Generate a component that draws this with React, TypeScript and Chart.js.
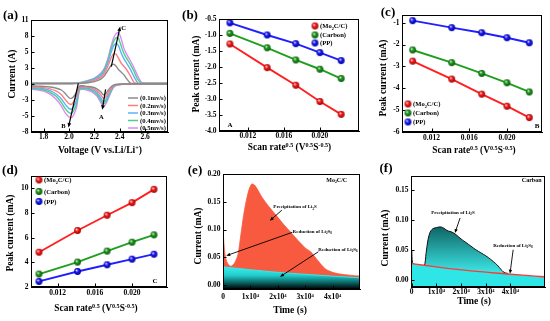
import React, { useEffect, useRef } from 'react';
import { Chart, registerables } from 'chart.js';

Chart.register(...registerables);

const FAMILY = "'Liberation Serif', 'Times New Roman', Times, serif";

/* ---------------- (a) cyclic voltammetry ---------------- */
const CV_RATE_LABELS = ['(0.1mv/s)', '(0.2mv/s)', '(0.3mv/s)', '(0.4mv/s)', '(0.5mv/s)'];
const CV_ANODIC_V = [1.7, 1.8, 1.9, 2.0, 2.05, 2.1, 2.15, 2.2, 2.25, 2.28, 2.31, 2.33, 2.35, 2.37, 2.39, 2.41, 2.43, 2.45, 2.48, 2.51, 2.54, 2.57, 2.6, 2.7, 2.78];
const CV_ANODIC_01 = [0.05, 0.05, 0.05, 0.05, 0.06, 0.1, 0.2, 0.4, 0.8, 1.4, 2.4, 3.1, 3.3, 3.0, 2.4, 2.0, 1.6, 1.0, 0.2, 0.05, 0.05, 0.05, 0.05, 0.05, 0.05];
const CV_ANODIC_02 = [0.08, 0.08, 0.08, 0.08, 0.1, 0.15, 0.3, 0.6, 1.1, 1.8, 3.2, 4.3, 5.0, 5.0, 4.3, 3.5, 3.0, 2.5, 1.5, 0.3, 0.08, 0.08, 0.08, 0.08, 0.08];
const CV_ANODIC_03 = [0.1, 0.1, 0.1, 0.1, 0.12, 0.2, 0.4, 0.8, 1.4, 2.2, 3.8, 5.2, 6.3, 6.8, 6.4, 5.2, 4.3, 3.6, 2.6, 1.3, 0.2, 0.1, 0.1, 0.1, 0.1];
const CV_ANODIC_04 = [0.12, 0.12, 0.12, 0.12, 0.15, 0.25, 0.5, 0.9, 1.6, 2.5, 4.2, 5.8, 7.0, 7.7, 7.6, 6.4, 5.2, 4.4, 3.4, 2.2, 0.8, 0.15, 0.12, 0.12, 0.12];
const CV_ANODIC_05 = [0.15, 0.15, 0.15, 0.15, 0.18, 0.3, 0.6, 1.0, 1.8, 2.7, 4.5, 6.2, 7.6, 8.4, 8.6, 7.6, 6.1, 5.1, 4.0, 2.8, 1.4, 0.3, 0.15, 0.15, 0.15];
const CV_CATHODIC_V = [2.78, 2.6, 2.45, 2.38, 2.35, 2.33, 2.31, 2.29, 2.27, 2.25, 2.22, 2.18, 2.14, 2.11, 2.09, 2.08, 2.07, 2.06, 2.04, 2.02, 2.0, 1.97, 1.94, 1.9, 1.85, 1.8, 1.75, 1.7];
const CV_CATHODIC_01 = [0, 0, 0, -0.05, -0.2, -0.5, -1.0, -1.6, -1.8, -1.3, -0.8, -0.5, -0.4, -0.3, -0.3, -0.4, -0.8, -1.3, -2.0, -2.4, -2.3, -1.6, -1.0, -0.7, -0.5, -0.4, -0.35, -0.3];
const CV_CATHODIC_02 = [0, 0, 0, -0.1, -0.3, -0.8, -1.4, -2.1, -2.4, -1.8, -1.1, -0.7, -0.5, -0.45, -0.45, -0.6, -1.2, -1.9, -2.8, -3.4, -3.3, -2.6, -1.8, -1.2, -0.8, -0.6, -0.5, -0.45];
const CV_CATHODIC_03 = [0, 0, 0, -0.1, -0.4, -1.0, -1.8, -2.6, -3.0, -2.3, -1.4, -0.9, -0.65, -0.6, -0.6, -0.8, -1.6, -2.6, -3.6, -4.2, -4.1, -3.4, -2.5, -1.7, -1.1, -0.8, -0.65, -0.6];
const CV_CATHODIC_04 = [0, 0, 0, -0.15, -0.5, -1.2, -2.1, -3.0, -3.4, -2.7, -1.7, -1.1, -0.8, -0.75, -0.75, -1.0, -2.0, -3.2, -4.3, -4.9, -4.8, -4.1, -3.1, -2.1, -1.4, -1.0, -0.8, -0.7];
const CV_CATHODIC_05 = [0, 0, 0, -0.2, -0.6, -1.4, -2.4, -3.3, -3.8, -3.1, -2.0, -1.3, -1.0, -0.9, -0.9, -1.2, -2.4, -3.8, -5.0, -5.6, -5.5, -4.8, -3.7, -2.6, -1.7, -1.2, -0.95, -0.85];
const CV_X_TICKS = [1.8, 2.0, 2.2, 2.4, 2.6];
const CV_X_LABELS = ['1.8', '2.0', '2.2', '2.4', '2.6'];
const CV_Y_TICKS = [-8, -16 / 3, -8 / 3, 0, 8 / 3, 16 / 3, 8, 32 / 3];
const CV_Y_LABELS = ['-8', '-5', '-3', '0', '3', '5', '8', '11'];

/* ---------------- (b)(c)(d) peak current vs scan rate^0.5 ---------------- */
const SCAN_SQRT = [0.01, 0.01414, 0.01732, 0.02, 0.02236];
const PEAK_SERIES = ['(Mo_{2}C/C)', '(Carbon)', '(PP)'];
const PEAK_A_MO2C = [-1.28, -2.02, -2.57, -3.08, -3.48];
const PEAK_A_CARBON = [-0.95, -1.4, -1.78, -2.07, -2.36];
const PEAK_A_PP = [-0.62, -1.0, -1.27, -1.55, -1.8];
const PEAK_B_MO2C = [-2.76, -3.58, -4.27, -4.82, -5.34];
const PEAK_B_CARBON = [-2.25, -2.83, -3.32, -3.75, -4.17];
const PEAK_B_PP = [-0.91, -1.23, -1.46, -1.69, -1.92];
const PEAK_C_MO2C = [4.82, 6.58, 7.82, 8.84, 9.92];
const PEAK_C_CARBON = [3.05, 4.02, 4.91, 5.63, 6.23];
const PEAK_C_PP = [2.45, 3.26, 3.8, 4.26, 4.66];
const SCAN_X_TICKS = [0.012, 0.016, 0.02];
const SCAN_X_LABELS = ['0.012', '0.016', '0.020'];
const PEAK_A_Y_TICKS = [-4, -3.5, -3, -2.5, -2, -1.5, -1, -0.5];
const PEAK_A_Y_LABELS = ['-4.0', '-3.5', '-3.0', '-2.5', '-2.0', '-1.5', '-1.0', '-0.5'];
const PEAK_B_Y_TICKS = [-6, -5, -4, -3, -2, -1];
const PEAK_B_Y_LABELS = ['-6', '-5', '-4', '-3', '-2', '-1'];
const PEAK_C_Y_TICKS = [2, 4, 6, 8, 10];
const PEAK_C_Y_LABELS = ['2', '4', '6', '8', '10'];

/* ---------------- (e)(f) potentiostatic discharge ---------------- */
const E_PRECIP_T = [0, 200, 500, 1000, 1800, 2800, 3600, 4500, 5500, 6500, 7500, 8500, 9500, 10500, 11500, 12500, 14000, 16000, 18000, 20000, 22000, 24000, 26000, 28000, 30000, 32000, 33000, 34000, 35000, 36000, 37000, 38000, 39000, 40000, 42000, 45000, 48000, 50000];
const E_PRECIP_I = [0.1, 0.085, 0.065, 0.048, 0.038, 0.034, 0.036, 0.042, 0.056, 0.09, 0.125, 0.152, 0.172, 0.182, 0.18, 0.173, 0.16, 0.146, 0.134, 0.122, 0.11, 0.099, 0.088, 0.077, 0.067, 0.06, 0.054, 0.048, 0.042, 0.036, 0.031, 0.027, 0.025, 0.023, 0.0205, 0.0185, 0.017, 0.0165];
const E_BASE_T = [0, 10000, 20000, 30000, 40000, 50000];
const E_BASE_I = [0.033, 0.0278, 0.023, 0.0195, 0.0162, 0.0131];
const F_PRECIP_T = [0, 300, 1000, 3000, 5000, 5800, 6600, 7400, 8200, 9000, 10000, 11000, 12000, 13000, 14000, 15000, 16000, 17000, 18000, 20000, 22000, 24000, 26000, 28000, 30000, 32000, 34000, 35000, 36000, 37000, 38000, 39000];
const F_PRECIP_I = [0.05, 0.03, 0.027, 0.0245, 0.024, 0.045, 0.068, 0.08, 0.085, 0.087, 0.088, 0.089, 0.089, 0.087, 0.084, 0.082, 0.081, 0.079, 0.076, 0.069, 0.063, 0.057, 0.051, 0.046, 0.041, 0.035, 0.028, 0.024, 0.019, 0.0145, 0.0125, 0.0115];
const F_BASE_T = [0, 10000, 20000, 30000, 40000, 50000, 54000];
const F_BASE_I = [0.028, 0.0225, 0.0175, 0.0138, 0.0103, 0.0072, 0.006];
const TIME_TICKS = [0, 10000, 20000, 30000, 40000];
const TIME_LABELS = ['0', '1x10\u2074', '2x10\u2074', '3x10\u2074', '4x10\u2074'];
const E_Y_TICKS = [0, 0.05, 0.1, 0.15, 0.2];
const E_Y_LABELS = ['0.00', '0.05', '0.10', '0.15', '0.20'];
const F_Y_TICKS = [0, 0.05, 0.1, 0.15];
const F_Y_LABELS = ['0.00', '0.05', '0.10', '0.15'];

/* ---------------- layout & styles ---------------- */
type Box = { x: number; y: number; w: number; h: number; l: number; t: number; r: number; b: number; xPad: number };
const BOX_A: Box = { x: 0, y: 0, w: 180, h: 158, l: 31, t: 20, r: 168, b: 132, xPad: 1 };
const BOX_B: Box = { x: 180, y: 0, w: 185, h: 158, l: 219, t: 19, r: 360, b: 131, xPad: 1 };
const BOX_C: Box = { x: 365, y: 0, w: 185, h: 158, l: 402, t: 15, r: 542, b: 132, xPad: 1.5 };
const BOX_D: Box = { x: 0, y: 158, w: 185, h: 163, l: 31, t: 176, r: 167, b: 287, xPad: 1.5 };
const BOX_E: Box = { x: 185, y: 158, w: 185, h: 163, l: 223, t: 174, r: 360, b: 289, xPad: 4 };
const BOX_F: Box = { x: 370, y: 158, w: 180, h: 163, l: 411, t: 176, r: 545, b: 287, xPad: 1 };

const CV_COLORS = ['#8a8a8a', '#ff7d7d', '#5db3f3', '#4ccf8c', '#dc8af7'];
const SERIES_COLORS = ['#ff1f1f', '#1f9f1f', '#1f1fff'];
const SERIES_DARK = ['#9a0000', '#0a560a', '#00009a'];

/* ---------------- helpers ---------------- */
type Seg = { t: string; m: number };
function parseRich(s: string): Seg[] {
  const out: Seg[] = [];
  let buf = '';
  let i = 0;
  while (i < s.length) {
    const ch = s[i];
    if ((ch === '^' || ch === '_') && s[i + 1] === '{') {
      if (buf) { out.push({ t: buf, m: 0 }); buf = ''; }
      const end = s.indexOf('}', i + 2);
      out.push({ t: s.slice(i + 2, end), m: ch === '^' ? 1 : -1 });
      i = end + 1;
    } else { buf += ch; i++; }
  }
  if (buf) out.push({ t: buf, m: 0 });
  return out;
}

function drawText(ctx: CanvasRenderingContext2D, s: string, x: number, y: number, size: number, align = 'center', rot = 0) {
  const sg = parseRich(s);
  ctx.save();
  ctx.translate(x, y);
  if (rot) ctx.rotate(rot);
  let w = 0;
  for (const g of sg) {
    ctx.font = `bold ${g.m ? size * 0.65 : size}px ${FAMILY}`;
    w += ctx.measureText(g.t).width;
  }
  let cx = align === 'center' ? -w / 2 : align === 'right' ? -w : 0;
  ctx.fillStyle = '#000';
  ctx.textAlign = 'left';
  ctx.textBaseline = 'alphabetic';
  const base = size * 0.34;
  for (const g of sg) {
    ctx.font = `bold ${g.m ? size * 0.65 : size}px ${FAMILY}`;
    const dy = g.m === 1 ? -size * 0.38 : g.m === -1 ? size * 0.22 : 0;
    ctx.fillText(g.t, cx, base + dy);
    cx += ctx.measureText(g.t).width;
  }
  ctx.restore();
}

function drawArrow(ctx: CanvasRenderingContext2D, x1: number, y1: number, x2: number, y2: number, head = 4.5, lw = 1.1) {
  const a = Math.atan2(y2 - y1, x2 - x1);
  const c = Math.cos(a), s = Math.sin(a);
  ctx.save();
  ctx.strokeStyle = '#000';
  ctx.fillStyle = '#000';
  ctx.lineWidth = lw;
  ctx.beginPath();
  ctx.moveTo(x1, y1);
  ctx.lineTo(x2 - c * head * 0.8, y2 - s * head * 0.8);
  ctx.stroke();
  ctx.beginPath();
  ctx.moveTo(x2, y2);
  ctx.lineTo(x2 - head * c + head * 0.42 * s, y2 - head * s - head * 0.42 * c);
  ctx.lineTo(x2 - head * c - head * 0.42 * s, y2 - head * s + head * 0.42 * c);
  ctx.closePath();
  ctx.fill();
  ctx.restore();
}

function sphere(color: string, dark: string, r: number) {
  const c = document.createElement('canvas');
  const s = Math.ceil(r * 2) + 2;
  c.width = s; c.height = s;
  const g = c.getContext('2d')!;
  const grd = g.createRadialGradient(s / 2 - r * 0.35, s / 2 - r * 0.4, r * 0.05, s / 2, s / 2, r);
  grd.addColorStop(0, '#ffffff');
  grd.addColorStop(0.4, color);
  grd.addColorStop(1, dark);
  g.fillStyle = grd;
  g.beginPath();
  g.arc(s / 2, s / 2, r, 0, Math.PI * 2);
  g.fill();
  return c;
}

function makeScale(box: Box, horizontal: boolean, min: number, max: number, ticks: number[], labels: string[]) {
  return {
    type: 'linear',
    position: horizontal ? 'bottom' : 'left',
    min, max,
    afterBuildTicks: (s: any) => { s.ticks = ticks.map((v) => ({ value: v })); },
    afterFit: (s: any) => {
      if (horizontal) s.height = box.y + box.h - box.b;
      else s.width = box.l - box.x;
    },
    ticks: {
      autoSkip: false, maxRotation: 0, minRotation: 0, padding: horizontal ? box.xPad : 2.5, color: '#000',
      font: { family: FAMILY, size: 7.5, weight: 'bold' },
      callback: (_v: any, i: number) => labels[i],
    },
    grid: { display: true, drawOnChartArea: false, drawTicks: false, color: '#000', lineWidth: 1 },
    border: { display: true, color: '#000', width: 1 },
  };
}

function baseOptions(box: Box, xs: any, ys: any) {
  return {
    responsive: false,
    animation: false,
    devicePixelRatio: 1,
    events: [],
    layout: { padding: { left: 0, top: box.t - box.y, right: box.x + box.w - box.r, bottom: 0 } },
    plugins: { legend: { display: false }, tooltip: { enabled: false }, title: { display: false } },
    scales: { x: xs, y: ys },
  };
}

type DrawFn = (ctx: CanvasRenderingContext2D, P: (x: number, y: number) => number[], D: (x: number, y: number) => number[]) => void;
function decoPlugin(box: Box, draw: DrawFn) {
  return {
    id: 'deco',
    afterDraw(chart: any) {
      const ctx = chart.ctx as CanvasRenderingContext2D;
      const a = chart.chartArea;
      ctx.save();
      ctx.strokeStyle = '#000';
      ctx.lineWidth = 1;
      const L = Math.round(a.left) + 0.5, T = Math.round(a.top) + 0.5;
      const R = Math.round(a.right) - 0.5, B = Math.round(a.bottom) - 0.5;
      ctx.strokeRect(L, T, R - L, B - T);
      ctx.beginPath();
      for (const t of chart.scales.x.ticks) {
        const px = Math.round(chart.scales.x.getPixelForValue(t.value)) + 0.5;
        ctx.moveTo(px, B); ctx.lineTo(px, B - 3);
      }
      for (const t of chart.scales.y.ticks) {
        const py = Math.round(chart.scales.y.getPixelForValue(t.value)) + 0.5;
        ctx.moveTo(L, py); ctx.lineTo(L + 3, py);
      }
      ctx.stroke();
      const P = (px: number, py: number) => [px - box.x, py - box.y];
      const D = (vx: number, vy: number) => [chart.scales.x.getPixelForValue(vx), chart.scales.y.getPixelForValue(vy)];
      draw(ctx, P, D);
      ctx.restore();
    },
  };
}

function pts(xs: number[], ys: number[]) {
  return xs.map((x, i) => ({ x, y: ys[i] }));
}

/* ---------------- panels ---------------- */
function chartA(cv: HTMLCanvasElement) {
  const an = [CV_ANODIC_01, CV_ANODIC_02, CV_ANODIC_03, CV_ANODIC_04, CV_ANODIC_05];
  const ca = [CV_CATHODIC_01, CV_CATHODIC_02, CV_CATHODIC_03, CV_CATHODIC_04, CV_CATHODIC_05];
  const datasets = an.map((a, i) => ({
    data: [...pts(CV_ANODIC_V, a), ...pts(CV_CATHODIC_V, ca[i])],
    borderColor: CV_COLORS[i], borderWidth: 1.4, pointRadius: 0, tension: 0.12, fill: false,
  }));
  const xs = makeScale(BOX_A, true, 1.7, 2.78, CV_X_TICKS, CV_X_LABELS);
  const ys = makeScale(BOX_A, false, -8, 32 / 3, CV_Y_TICKS, CV_Y_LABELS);
  return new Chart(cv, {
    type: 'line', data: { datasets } as any, options: baseOptions(BOX_A, xs, ys) as any,
    plugins: [decoPlugin(BOX_A, (ctx, P, D) => {
      const rows = [98, 105.5, 113, 120.5, 128];
      rows.forEach((ry, i) => {
        const [x1, y1] = P(128, ry);
        const [x2] = P(138, ry);
        ctx.strokeStyle = CV_COLORS[i]; ctx.lineWidth = 1.5;
        ctx.beginPath(); ctx.moveTo(x1, y1); ctx.lineTo(x2, y1); ctx.stroke();
        const [tx, ty] = P(140, ry);
        drawText(ctx, CV_RATE_LABELS[i], tx, ty, 6.6, 'left');
      });
      let a = D(2.073, 0.1), b = D(1.995, -7.25); drawArrow(ctx, a[0], a[1], b[0], b[1], 4.5, 1.2);
      a = D(2.288, -0.9); b = D(2.262, -4.3); drawArrow(ctx, a[0], a[1], b[0], b[1], 4.5, 1.2);
      a = D(2.333, 2.9); b = D(2.403, 9.6); drawArrow(ctx, a[0], a[1], b[0], b[1], 4.5, 1.2);
      let p = D(1.955, -7.0); drawText(ctx, 'B', p[0], p[1], 6.5);
      p = D(2.255, -5.4); drawText(ctx, 'A', p[0], p[1], 6.5);
      p = D(2.43, 9.3); drawText(ctx, 'C', p[0], p[1], 6.5);
      p = P(10.5, 15); drawText(ctx, '(a)', p[0], p[1], 13);
      p = P(100, 150); drawText(ctx, 'Voltage (V vs.Li/Li^{+})', p[0], p[1], 9.6);
      p = P(11.5, 74); drawText(ctx, 'Current (A)', p[0], p[1], 9.6, 'center', -Math.PI / 2);
    })],
  });
}

type PeakCfg = {
  box: Box; series: number[][]; yMin: number; yMax: number; yTicks: number[]; yLabels: string[];
  xMin: number; xMax: number; legend: { x: number; ys: number[] }; tag: string; tagPos: number[];
  letter: string; letterPos: number[]; xTitlePos: number[]; yTitlePos: number[];
};

function chartPeak(cv: HTMLCanvasElement, c: PeakCfg) {
  const imgs = SERIES_COLORS.map((col, i) => sphere(col, SERIES_DARK[i], 3.4));
  const datasets = c.series.map((vals, i) => ({
    data: pts(SCAN_SQRT, vals),
    borderColor: SERIES_COLORS[i], borderWidth: 1.9, pointStyle: imgs[i] as any, pointRadius: 3.4, fill: false, tension: 0,
  }));
  const xs = makeScale(c.box, true, c.xMin, c.xMax, SCAN_X_TICKS, SCAN_X_LABELS);
  const ys = makeScale(c.box, false, c.yMin, c.yMax, c.yTicks, c.yLabels);
  return new Chart(cv, {
    type: 'line', data: { datasets } as any, options: baseOptions(c.box, xs, ys) as any,
    plugins: [decoPlugin(c.box, (ctx, P) => {
      c.legend.ys.forEach((ly, i) => {
        const [mx, my] = P(c.legend.x, ly);
        ctx.drawImage(imgs[i], mx - imgs[i].width / 2, my - imgs[i].height / 2);
        drawText(ctx, PEAK_SERIES[i], mx + 5, my, 6.6, 'left');
      });
      let p = P(c.tagPos[0], c.tagPos[1]); drawText(ctx, c.tag, p[0], p[1], 7);
      p = P(c.letterPos[0], c.letterPos[1]); drawText(ctx, c.letter, p[0], p[1], 13);
      p = P(c.xTitlePos[0], c.xTitlePos[1]); drawText(ctx, 'Scan rate^{0.5} (V^{0.5}S^{-0.5})', p[0], p[1], 9.4);
      p = P(c.yTitlePos[0], c.yTitlePos[1]); drawText(ctx, 'Peak current (mA)', p[0], p[1], 9.6, 'center', -Math.PI / 2);
    })],
  });
}

function chartE(cv: HTMLCanvasElement) {
  const box = BOX_E;
  const cyanGrad = (ctx: any) => {
    const ch = ctx.chart;
    const a = ch.chartArea;
    if (!a) return '#30e6e6';
    const y0 = ch.scales.y.getPixelForValue(0.034);
    const g = ch.ctx.createLinearGradient(0, y0, 0, a.bottom);
    g.addColorStop(0, '#3ff0f0');
    g.addColorStop(0.4, '#22cccc');
    g.addColorStop(0.72, '#0b6464');
    g.addColorStop(1, '#000000');
    return g;
  };
  const datasets = [
    { data: pts(E_BASE_T, E_BASE_I), borderColor: '#35e8e8', borderWidth: 1, pointRadius: 0, fill: 'start', backgroundColor: cyanGrad, tension: 0.3 },
    { data: pts(E_PRECIP_T, E_PRECIP_I), borderColor: '#f85a40', borderWidth: 0.8, pointRadius: 0, fill: 'origin', backgroundColor: '#f85a40', tension: 0.3 },
  ];
  const xs = makeScale(box, true, 0, 50000, TIME_TICKS, TIME_LABELS);
  const ys = makeScale(box, false, -0.007, 0.2, E_Y_TICKS, E_Y_LABELS);
  return new Chart(cv, {
    type: 'line', data: { datasets } as any, options: baseOptions(box, xs, ys) as any,
    plugins: [decoPlugin(box, (ctx, P, D) => {
      let p = D(41500, 0.19); drawText(ctx, 'Mo_{2}C/C', p[0], p[1], 6);
      p = D(26300, 0.141); drawText(ctx, 'Precipitation of Li_{2}S', p[0], p[1], 5);
      let a = D(21500, 0.135), b = D(17100, 0.116); drawArrow(ctx, a[0], a[1], b[0], b[1], 4, 0.9);
      p = D(25400, 0.097); drawText(ctx, 'Reduction of Li_{2}S_{8}', p[0], p[1], 5, 'left');
      a = D(25300, 0.095); b = D(1200, 0.053); drawArrow(ctx, a[0], a[1], b[0], b[1], 4, 0.9);
      p = D(34800, 0.065); drawText(ctx, 'Reduction of Li_{2}S_{6}', p[0], p[1], 5, 'left');
      a = D(34800, 0.06); b = D(20800, 0.015); drawArrow(ctx, a[0], a[1], b[0], b[1], 4, 0.9);
      p = P(195, 170); drawText(ctx, '(e)', p[0], p[1], 13);
      p = P(290, 310); drawText(ctx, 'Time (s)', p[0], p[1], 9.6);
      p = P(198, 236); drawText(ctx, 'Current (mA)', p[0], p[1], 9.6, 'center', -Math.PI / 2);
    })],
  });
}

function chartF(cv: HTMLCanvasElement) {
  const box = BOX_F;
  const tealGrad = (ctx: any) => {
    const ch = ctx.chart;
    const a = ch.chartArea;
    if (!a) return '#1a9a9a';
    const y0 = ch.scales.y.getPixelForValue(0.09);
    const y1 = ch.scales.y.getPixelForValue(0.015);
    const g = ch.ctx.createLinearGradient(0, y0, 0, y1);
    g.addColorStop(0, '#0f6363');
    g.addColorStop(1, '#3be2e2');
    return g;
  };
  const datasets = [
    { data: pts(F_BASE_T, F_BASE_I), borderColor: '#ff3838', borderWidth: 1.4, pointRadius: 0, fill: 'start', backgroundColor: '#2fe6e6', tension: 0.3 },
    { data: pts(F_PRECIP_T, F_PRECIP_I), borderColor: '#111111', borderWidth: 1, pointRadius: 0, fill: 'origin', backgroundColor: tealGrad, tension: 0.3 },
  ];
  const xs = makeScale(box, true, -300, 54000, TIME_TICKS, TIME_LABELS);
  const ys = makeScale(box, false, -0.011, 0.174, F_Y_TICKS, F_Y_LABELS);
  return new Chart(cv, {
    type: 'line', data: { datasets } as any, options: baseOptions(box, xs, ys) as any,
    plugins: [decoPlugin(box, (ctx, P, D) => {
      let p = D(48600, 0.167); drawText(ctx, 'Carbon', p[0], p[1], 6);
      p = D(16700, 0.114); drawText(ctx, 'Precipitation of Li_{2}S', p[0], p[1], 5);
      let a = D(19600, 0.104), b = D(17500, 0.079); drawArrow(ctx, a[0], a[1], b[0], b[1], 4, 0.9);
      p = D(41000, 0.058); drawText(ctx, 'Reduction of Li_{2}S_{8}', p[0], p[1], 5);
      a = D(41100, 0.051); b = D(39800, 0.011); drawArrow(ctx, a[0], a[1], b[0], b[1], 4, 0.9);
      p = P(386, 168); drawText(ctx, '(f)', p[0], p[1], 13);
      p = P(474, 301); drawText(ctx, 'Time (s)', p[0], p[1], 9.6);
      p = P(385, 238); drawText(ctx, 'Current (mA)', p[0], p[1], 9.6, 'center', -Math.PI / 2);
    })],
  });
}

const PANELS: { box: Box; make: (c: HTMLCanvasElement) => Chart }[] = [
  { box: BOX_A, make: chartA },
  {
    box: BOX_B, make: (c) => chartPeak(c, {
      box: BOX_B, series: [PEAK_A_MO2C, PEAK_A_CARBON, PEAK_A_PP], yMin: -4, yMax: -0.5,
      yTicks: PEAK_A_Y_TICKS, yLabels: PEAK_A_Y_LABELS, xMin: 0.00879, xMax: 0.02435,
      legend: { x: 315, ys: [26, 35, 43] }, tag: 'A', tagPos: [230, 125], letter: '(b)', letterPos: [190, 15],
      xTitlePos: [289.5, 147], yTitlePos: [196, 74],
    }),
  },
  {
    box: BOX_C, make: (c) => chartPeak(c, {
      box: BOX_C, series: [PEAK_B_MO2C, PEAK_B_CARBON, PEAK_B_PP], yMin: -6, yMax: -0.65,
      yTicks: PEAK_B_Y_TICKS, yLabels: PEAK_B_Y_LABELS, xMin: 0.00887, xMax: 0.02371,
      legend: { x: 408, ys: [104, 113, 122] }, tag: 'B', tagPos: [537, 126], letter: '(c)', letterPos: [388, 12],
      xTitlePos: [474, 150], yTitlePos: [383, 78],
    }),
  },
  {
    box: BOX_D, make: (c) => chartPeak(c, {
      box: BOX_D, series: [PEAK_C_MO2C, PEAK_C_CARBON, PEAK_C_PP], yMin: 2, yMax: 11,
      yTicks: PEAK_C_Y_TICKS, yLabels: PEAK_C_Y_LABELS, xMin: 0.00914, xMax: 0.02376,
      legend: { x: 39, ys: [180, 191.5, 201.5] }, tag: 'C', tagPos: [155, 281], letter: '(d)', letterPos: [10, 170],
      xTitlePos: [96, 308], yTitlePos: [9.5, 233],
    }),
  },
  { box: BOX_E, make: chartE },
  { box: BOX_F, make: chartF },
];

function Panel({ box, make }: { box: Box; make: (c: HTMLCanvasElement) => Chart }) {
  const ref = useRef<HTMLCanvasElement>(null);
  useEffect(() => {
    const chart = make(ref.current!);
    return () => chart.destroy();
  }, []);
  return (
    <canvas
      ref={ref}
      width={box.w}
      height={box.h}
      style={{ position: 'absolute', left: box.x, top: box.y, width: box.w, height: box.h }}
    />
  );
}

export default function App() {
  return (
    <div style={{ position: 'absolute', left: 0, top: 0, width: 550, height: 321, background: '#fff', overflow: 'hidden' }}>
      {PANELS.map((p, i) => (
        <Panel key={i} box={p.box} make={p.make} />
      ))}
    </div>
  );
}
